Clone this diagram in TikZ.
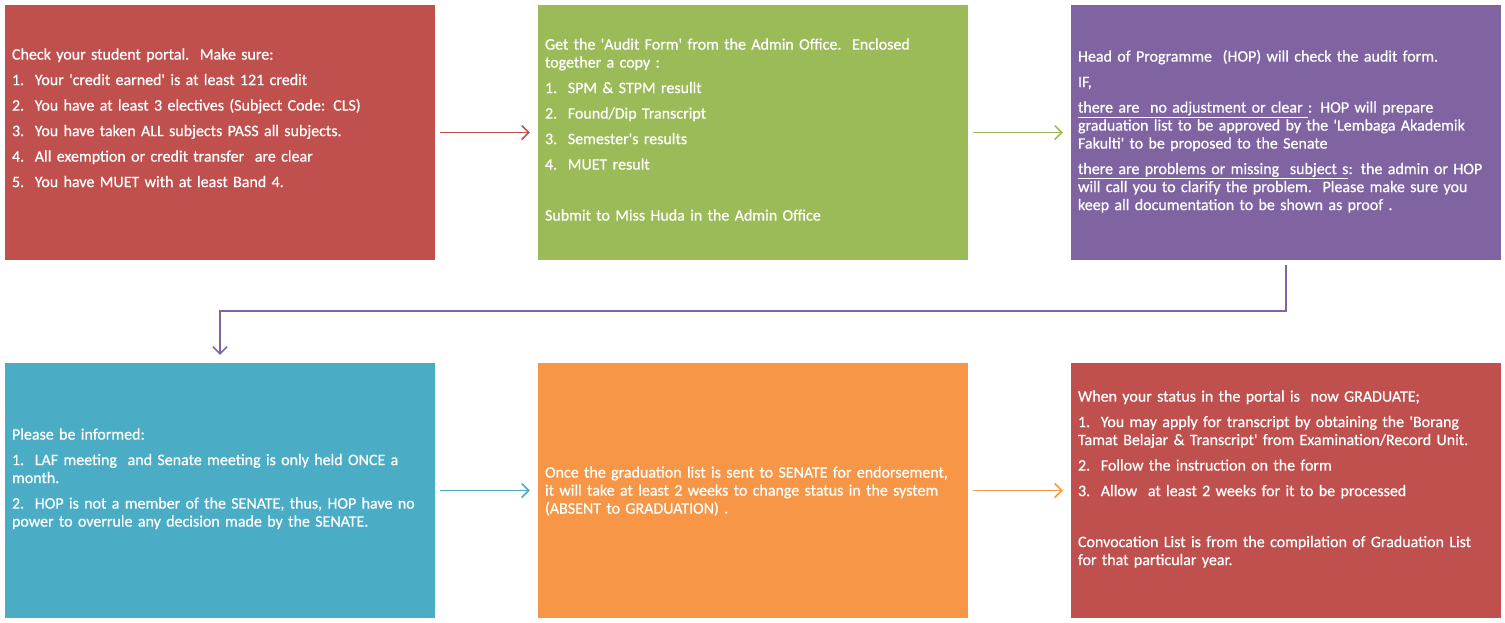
\documentclass[tikz,border=0pt]{standalone}
\usepackage{fontspec}
\newfontfamily\boxfont{Carlito}[FakeBold=0.6]
\usetikzlibrary{arrows.meta}
\definecolor{stepred}{HTML}{C0504D}
\definecolor{stepgreen}{HTML}{9BBB59}
\definecolor{steppurple}{HTML}{8064A2}
\definecolor{stepblue}{HTML}{4BACC6}
\definecolor{steporange}{HTML}{F79646}
\tikzset{
    box/.style={rectangle, fill=#1, minimum width=430pt, minimum height=255pt, inner sep=0pt},
    txt/.style={anchor=north west, inner sep=0pt, text width=424pt, align=left, text=white,
        font=\boxfont\fontsize{16}{18}\selectfont},
    flow/.style={draw=#1, line width=1.5pt, -{Straight Barb[length=7pt,width=14pt]},
        shorten <=5pt, shorten >=8pt}
}
\begin{document}
\begin{tikzpicture}[x=1pt,y=-1pt]
                \useasboundingbox (0,0) rectangle (1505,622);
                % top row
                \node[box=stepred] (portal) at (220,132.5) {};
                \node[box=stepgreen] (audit) at (753,132.5) {};
                \node[box=steppurple] (check) at (1286,132.5) {};
                % bottom row
                \node[box=stepblue] (inform) at (220,490.5) {};
                \node[box=steporange] (senate) at (753,490.5) {};
                \node[box=stepred] (graduate) at (1286,490.5) {};
                % texts
                \node[txt] (portaltext) at ([shift={(7,42)}]portal.north west) {\strut
                    Check your student portal.\ \ Make sure:\\[7.5pt]
                    1.\ \ Your 'credit earned' is at least 121 credit\\[7.5pt]
                    2.\ \ You have at least 3 electives (Subject Code: CLS)\\[7.5pt]
                    3.\ \ You have taken ALL subjects PASS all subjects.\\[7.5pt]
                    4.\ \ All exemption or credit transfer\ \ are clear\\[7.5pt]
                    5.\ \ You have MUET with at least Band 4.};
                \node[txt] (audittext) at ([shift={(7,32)}]audit.north west) {\strut
                    Get the 'Audit Form' from the Admin Office.\ \ Enclosed\\
                    together a copy :\\[7.5pt]
                    1.\ \ SPM \& STPM resullt\\[7.5pt]
                    2.\ \ Found/Dip Transcript\\[7.5pt]
                    3.\ \ Semester's results\\[7.5pt]
                    4.\ \ MUET result\\[33pt]
                    Submit to Miss Huda in the Admin Office};
                \node[txt] (checktext) at ([shift={(7,44)}]check.north west) {\strut
                    Head of Programme\ \ (HOP) will check the audit form.\\[7.5pt]
                    IF,\\[7.5pt]
                    \underline{there are\ \ no adjustment or clear\ }: HOP will prepare\\
                    graduation list to be approved by the 'Lembaga Akademik\\
                    Fakulti' to be proposed to the Senate\\[7.5pt]
                    \underline{there are problems or missing\ \ subject s}: the admin or HOP\\
                    will call you to clarify the problem.\ \ Please make sure you\\
                    keep all documentation to be shown as proof .};
                \node[txt] (informtext) at ([shift={(7,64)}]inform.north west) {\strut
                    Please be informed:\\[7.5pt]
                    1.\ \ LAF meeting\ \ and Senate meeting is only held ONCE a\\
                    month.\\[7.5pt]
                    2.\ \ HOP is not a member of the SENATE,\ thus, HOP have no\\
                    power to overrule any decision made by the SENATE.};
                \node[txt] (senatetext) at ([shift={(7,102)}]senate.north west) {\strut
                    Once the graduation list is sent to SENATE for endorsement,\\
                    it will take at least 2 weeks to change status in the system\\
                    (ABSENT to GRADUATION) .};
                \node[txt] (graduatetext) at ([shift={(7,26)}]graduate.north west) {\strut
                    When your status in the portal is\ \ now GRADUATE;\\[7.5pt]
                    1.\ \ You may apply for transcript by obtaining the 'Borang\\
                    Tamat Belajar \& Transcript' from Examination/Record Unit.\\[7.5pt]
                    2.\ \ Follow the instruction on the form\\[7.5pt]
                    3.\ \ Allow\ \ at least 2 weeks for it to be processed\\[33pt]
                    Convocation List is from the compilation of Graduation List\\
                    for that particular year.};
                % arrows
                \draw[flow=stepred] (portal) -- (audit);
                \draw[flow=stepgreen] (audit) -- (check);
                \draw[flow=steppurple] (check.south) -- ++(0,51) -| (inform.north);
                \draw[flow=stepblue] (inform) -- (senate);
                \draw[flow=steporange] (senate) -- (graduate);
            \end{tikzpicture}
\end{document}
